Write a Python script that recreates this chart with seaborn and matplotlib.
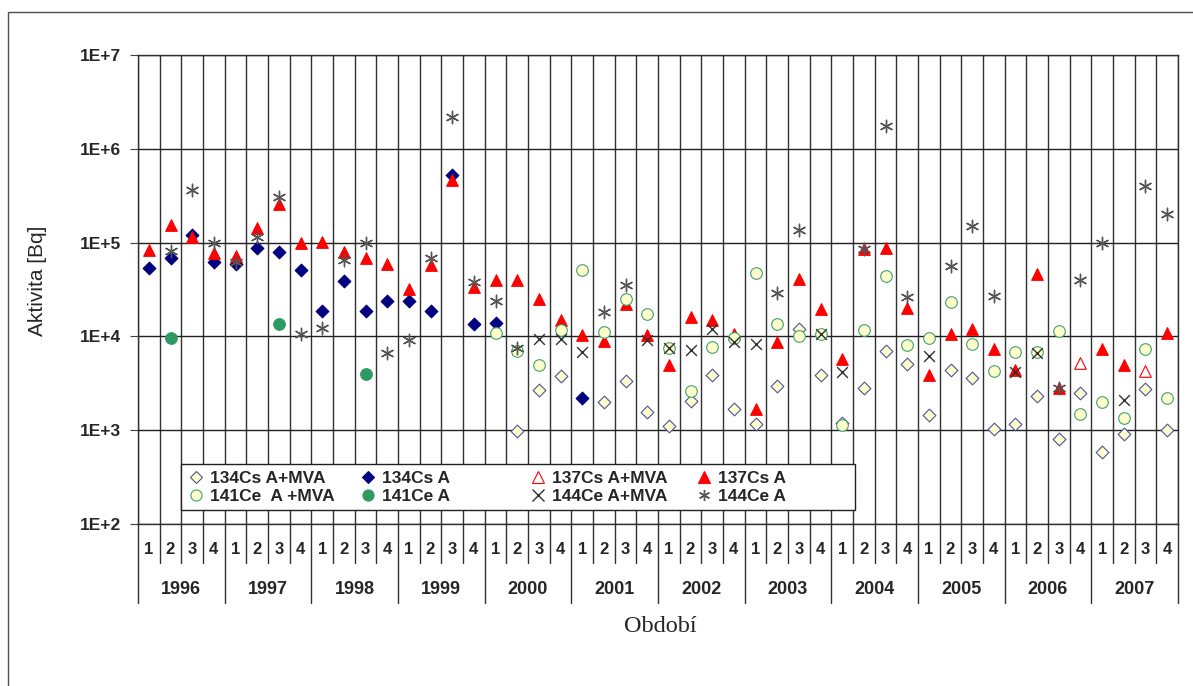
import numpy as np
import pandas as pd
import seaborn as sns
import matplotlib.pyplot as plt
from matplotlib.lines import Line2D
from matplotlib.legend import Legend
from matplotlib.patches import Rectangle
from matplotlib.ticker import FixedLocator, FuncFormatter, NullLocator
import matplotlib.transforms as mtransforms

nan = np.nan

# === Data ===
years = ['1996', '1997', '1998', '1999', '2000', '2001',
         '2002', '2003', '2004', '2005', '2006', '2007']
quarters = ['1', '2', '3', '4']

cs134_mva = [
    nan, nan, nan, nan,          # 1996
    nan, nan, nan, nan,          # 1997
    nan, nan, nan, nan,          # 1998
    nan, nan, nan, nan,          # 1999
    nan, 980, 2700, 3800,        # 2000
    nan, 2000, 3350, 1550,       # 2001
    1120, 2050, 3900, 1700,      # 2002
    1160, 2950, 12000, 3900,     # 2003
    1200, 2800, 7000, 5100,      # 2004
    1460, 4400, 3600, 1030,      # 2005
    1160, 2300, 800, 2500,       # 2006
    580, 910, 2750, 1000,        # 2007
]
cs134_a = [
    53000, 68000, 120000, 62000,
    59000, 88000, 79000, 51000,
    18800, 39000, 18800, 24000,
    24000, 18800, 520000, 13700,
    14000, nan, nan, nan,
    2200, nan, nan, nan,
    nan, nan, nan, nan,
    nan, nan, nan, nan,
    nan, nan, nan, nan,
    nan, nan, nan, nan,
    nan, nan, nan, nan,
    nan, nan, nan, nan,
]
cs137_mva = [
    nan, nan, nan, nan,
    nan, nan, nan, nan,
    nan, nan, nan, nan,
    nan, nan, nan, nan,
    nan, nan, nan, nan,
    nan, nan, nan, nan,
    nan, nan, nan, nan,
    nan, nan, nan, nan,
    nan, nan, nan, nan,
    nan, nan, nan, nan,
    nan, nan, nan, 5200,
    nan, nan, 4300, nan,
]
cs137_a = [
    83000, 155000, 115000, 78000,
    72000, 143000, 260000, 100000,
    102000, 79000, 69000, 59000,
    32000, 58000, 460000, 34000,
    40000, 40000, 25000, 15000,
    10300, 9000, 22000, 10300,
    4900, 16000, 15000, 10500,
    1700, 8800, 41000, 19400,
    5700, 85000, 88000, 20000,
    3900, 10500, 11900, 7300,
    4400, 46000, 2800, nan,
    7300, 4900, nan, 11000,
]
ce141_mva = [
    nan, nan, nan, nan,
    nan, nan, nan, nan,
    nan, nan, nan, nan,
    nan, nan, nan, nan,
    11000, 7000, 5000, 11700,
    51000, 11200, 25000, 17400,
    7500, 2600, 7800, 9500,
    47000, 13400, 10000, 10700,
    1140, 11600, 44000, 8100,
    9700, 23000, 8200, 4300,
    6900, 6900, 11500, 1480,
    2000, 1340, 7300, 2200,
]
ce141_a = [
    nan, 9700, nan, nan,
    nan, nan, 13600, nan,
    nan, nan, 4000, nan,
    nan, nan, nan, nan,
    nan, nan, nan, nan,
    nan, nan, nan, nan,
    nan, nan, nan, nan,
    nan, nan, nan, nan,
    nan, nan, nan, nan,
    nan, nan, nan, nan,
    nan, nan, nan, nan,
    nan, nan, nan, nan,
]
ce144_mva = [
    nan, nan, nan, nan,
    nan, nan, nan, nan,
    nan, nan, nan, nan,
    nan, nan, nan, nan,
    nan, nan, 9300, 9300,
    6800, nan, nan, 9100,
    7500, 7200, 12000, 8800,
    8300, nan, nan, 10700,
    4200, nan, nan, nan,
    6200, nan, nan, nan,
    4200, 6600, nan, nan,
    nan, 2100, nan, nan,
]
ce144_a = [
    nan, 81000, 360000, 100000,
    62000, 115000, 310000, 10500,
    12400, 65000, 98000, 6600,
    9100, 68000, 2200000, 38000,
    24000, 7500, nan, nan,
    nan, 18000, 35000, nan,
    nan, nan, nan, nan,
    nan, 29000, 135000, nan,
    nan, 85000, 1770000, 26000,
    nan, 56000, 149000, 27000,
    nan, nan, 2800, 40000,
    100000, nan, 400000, 200000,
]

# === Series styles (label, values, marker, size, face, edge) ===
ASTER = (6, 2, 0)
series = [
    ('134Cs A+MVA', cs134_mva, 'D', 42, '#FFFFCC', '#5050A0'),
    ('134Cs A', cs134_a, 'D', 42, '#000080', '#000080'),
    ('137Cs A+MVA', cs137_mva, '^', 70, 'white', '#FF0000'),
    ('137Cs A', cs137_a, '^', 70, '#FF0000', '#FF0000'),
    ('141Ce  A +MVA', ce141_mva, 'o', 70, '#FFFFCC', '#40A070'),
    ('141Ce A', ce141_a, 'o', 70, '#2E9A62', '#2E9A62'),
    ('144Ce A+MVA', ce144_mva, 'x', 60, None, '#303030'),
    ('144Ce A', ce144_a, ASTER, 80, None, '#555555'),
]

n_cat = len(years) * len(quarters)
pos = np.arange(n_cat)

# === Style ===
sns.set_style("white")
plt.rcParams['font.family'] = ['Liberation Sans', 'DejaVu Sans']

W, H = 1193, 686
fig = plt.figure(figsize=(W / 100, H / 100), dpi=100)
L, R, T, B = 138, 1178, 55, 524
ax = fig.add_axes([L / W, (H - B) / H, (R - L) / W, (B - T) / H])
ax.set_yscale('log')

for label, vals, mk, s, face, edge in series:
    df = pd.DataFrame({'pos': pos, 'val': vals}).dropna()
    if face is None:
        sns.scatterplot(data=df, x='pos', y='val', marker=mk, s=s, color=edge,
                        linewidth=1.0, ax=ax, zorder=3, legend=False)
    else:
        sns.scatterplot(data=df, x='pos', y='val', marker=mk, s=s, color=face,
                        edgecolor=edge, linewidth=0.8, ax=ax, zorder=3, legend=False)

# === Axes ===
ax.set_xlim(-0.5, n_cat - 0.5)
ax.set_ylim(1e2, 1e7)
ax.yaxis.set_major_locator(FixedLocator([1e2, 1e3, 1e4, 1e5, 1e6, 1e7]))
ax.yaxis.set_minor_locator(NullLocator())
ax.yaxis.set_major_formatter(FuncFormatter(lambda v, p: f"1E+{int(round(np.log10(v)))}"))
ax.tick_params(axis='y', which='major', length=6, width=0.8, color='#404040',
               labelsize=12.5, pad=6, left=True)
for t in ax.get_yticklabels():
    t.set_fontweight('bold')
ax.set_xticks([])
ax.set_xticks(np.arange(-0.5, n_cat, 1), minor=True)
ax.tick_params(axis='x', which='minor', length=0)
ax.grid(True, which='major', axis='y', color='#202020', lw=1.0)
ax.grid(True, which='minor', axis='x', color='#303030', lw=1.0)
ax.set_axisbelow(True)
for sp in ax.spines.values():
    sp.set_color('#303030')
    sp.set_linewidth(1.0)

ax.set_xlabel('')
ax.set_ylabel('Aktivita [Bq]', fontsize=15)
ax.yaxis.set_label_coords(-0.0875, 0.518)

# === Two-level category labels below the axis ===
trans = mtransforms.blended_transform_factory(ax.transData, ax.transAxes)
short_y = -(563 - B) / (B - T)
long_y = -(603 - B) / (B - T)
for k in range(n_cat + 1):
    bottom = long_y if k % 4 == 0 else short_y
    ax.plot([k - 0.5, k - 0.5], [0, bottom], transform=trans, color='#303030',
            lw=1.0, clip_on=False)
for k in range(n_cat):
    ax.text(k, -(549 - B) / (B - T), quarters[k % 4], transform=trans,
            ha='center', va='center', fontsize=12, fontweight='bold')
for j, yr in enumerate(years):
    ax.text(j * 4 + 1.5, -(590 - B) / (B - T), yr, transform=trans,
            ha='center', va='center', fontsize=13, fontweight='bold')
ax.text(0.502, -(616 - B) / (B - T), 'Období', transform=ax.transAxes,
        ha='center', va='top', fontsize=17.5, family=['Liberation Serif', 'DejaVu Serif'])

# === Legend (frame + one entry per slot) ===
ax.add_patch(Rectangle(((181 - L) / (R - L), (B - 510) / (B - T)),
                       (855 - 181) / (R - L), (510 - 464) / (B - T),
                       transform=ax.transAxes, facecolor='white', edgecolor='#202020',
                       lw=1.0, zorder=5))


def handle(label, vals, mk, s, face, edge):
    if face is None:
        return Line2D([], [], ls='none', marker=mk, ms=8, color=edge, mew=1.0)
    return Line2D([], [], ls='none', marker=mk, ms=6 if mk == 'D' else 8,
                  markerfacecolor=face, markeredgecolor=edge, mew=0.8)


# row 1: the Cs series, row 2: the Ce series
col_left = [189, 361, 531, 697]
row_y = [478, 496]
for idx, sr in enumerate(series):
    col = idx % 4
    row = idx // 4
    leg = Legend(ax, [handle(*sr)], [sr[0]], loc='center left',
                 bbox_to_anchor=((col_left[col] - L) / (R - L), (B - row_y[row]) / (B - T)),
                 frameon=False, borderpad=0, borderaxespad=0, handlelength=0.8,
                 handletextpad=0.4, prop={'size': 12.5, 'weight': 'bold'})
    leg.set_zorder(6)
    ax.add_artist(leg)

# === Outer chart border ===
fig.patches.append(Rectangle((8 / W, -0.05), 1.2, 1.05 - 12 / H, transform=fig.transFigure,
                             fill=False, edgecolor='#505050', lw=1.0))

fig.savefig('out.png', dpi=100)
